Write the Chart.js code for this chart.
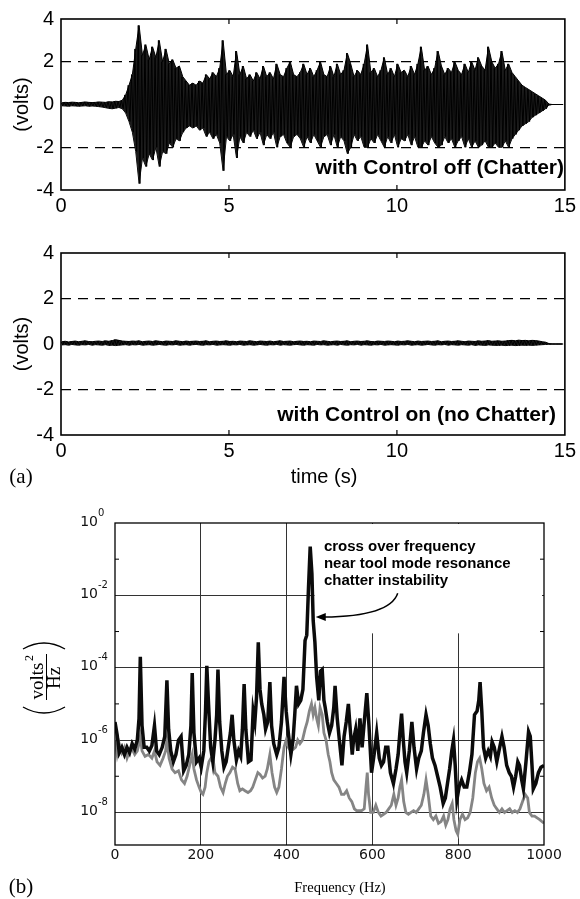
<!DOCTYPE html>
<html>
<head>
<meta charset="utf-8">
<script src="https://cdn.jsdelivr.net/npm/chart.js@4.4.1/dist/chart.umd.min.js"></script>
<style>
  body { margin: 0; background: #fff; width: 580px; height: 899px; position: relative; overflow: hidden; }
  canvas { position: absolute; left: 0; }
</style>
</head>
<body>
<canvas id="chartOff" width="580" height="225" style="top:0px"></canvas>
<canvas id="chartOn" width="580" height="275" style="top:225px"></canvas>
<canvas id="chartPsd" width="580" height="399" style="top:500px"></canvas>
<script>
// ---- time traces: envelope per 0.1 s bin (max / min volts) ----
const SAMPLE_STEP = 0.1;
const timeTicks = [0, 5, 10, 15];
const voltTicks = [-4, -2, 0, 2, 4];

const chatterHi = [
  0.08,0.10,0.09,0.11,0.10,0.08,0.10,0.12,0.10,0.09,
  0.10,0.12,0.11,0.10,0.13,0.12,0.15,0.14,0.20,0.45,
  0.90,1.40,2.60,3.70,2.30,2.80,2.10,2.70,2.20,3.00,
  2.00,2.60,1.90,2.10,1.70,1.80,1.30,1.10,0.90,1.00,
  0.90,1.10,1.00,1.40,1.20,1.50,1.30,1.70,3.00,1.40,
  1.60,1.30,2.50,1.40,1.80,1.20,1.40,1.10,1.50,1.20,
  1.80,1.30,1.50,1.20,1.90,1.40,1.30,1.70,2.00,1.40,
  1.30,1.50,1.90,1.40,1.70,1.30,1.60,2.00,1.40,1.30,
  1.80,1.30,1.90,1.40,1.60,2.40,1.90,1.30,1.60,1.40,
  1.90,2.80,1.50,1.70,1.30,1.60,2.20,1.40,1.70,1.30,
  1.90,1.50,1.60,1.30,1.80,1.40,1.90,2.70,1.60,1.80,
  1.40,1.70,2.50,1.80,1.40,1.70,1.50,2.00,1.60,1.40,
  1.90,1.50,2.00,1.60,2.20,1.80,1.60,2.70,2.00,1.70,
  1.90,2.50,1.60,1.90,1.50,1.30,1.10,0.90,0.80,0.70,
  0.60,0.50,0.40,0.30,0.20,0.02,0,0,0,0
];
const chatterLo = [
  -0.06,-0.07,-0.08,-0.06,-0.07,-0.08,-0.07,-0.06,-0.08,-0.07,
  -0.08,-0.10,-0.12,-0.15,-0.18,-0.20,-0.17,-0.14,-0.20,-0.40,
  -0.80,-1.30,-2.20,-3.70,-2.50,-2.90,-2.30,-2.60,-2.00,-2.90,
  -2.20,-2.30,-1.80,-2.00,-1.60,-1.70,-1.30,-1.10,-1.00,-1.10,
  -1.00,-1.20,-1.10,-1.50,-1.30,-1.60,-1.40,-1.80,-3.10,-1.50,
  -1.70,-1.40,-2.50,-1.50,-1.80,-1.30,-1.50,-1.20,-1.60,-1.30,
  -1.90,-1.40,-1.60,-1.30,-2.00,-1.50,-1.40,-1.80,-2.00,-1.50,
  -1.40,-1.60,-2.00,-1.50,-1.80,-1.40,-1.70,-2.00,-1.50,-1.40,
  -1.90,-1.40,-2.00,-1.50,-1.70,-2.30,-2.00,-1.40,-1.70,-1.50,
  -2.00,-2.00,-1.60,-1.80,-1.40,-1.70,-2.00,-1.50,-1.80,-1.40,
  -2.00,-1.60,-1.70,-1.40,-1.90,-1.50,-2.00,-2.00,-1.70,-1.90,
  -1.50,-1.80,-2.00,-1.90,-1.50,-1.80,-1.60,-2.00,-1.70,-1.50,
  -2.00,-1.60,-2.00,-1.70,-2.00,-1.90,-1.70,-2.00,-2.00,-1.80,
  -2.00,-2.00,-1.70,-2.00,-1.60,-1.40,-1.20,-1.00,-0.90,-0.80,
  -0.60,-0.50,-0.40,-0.30,-0.20,-0.02,0,0,0,0
];
const quietHi = [
  0.10,0.12,0.09,0.11,0.13,0.10,0.12,0.14,0.11,0.10,
  0.12,0.13,0.11,0.14,0.12,0.15,0.19,0.16,0.13,0.12,
  0.11,0.13,0.12,0.14,0.10,0.12,0.13,0.11,0.14,0.12,
  0.10,0.13,0.12,0.11,0.14,0.12,0.10,0.13,0.11,0.12,
  0.13,0.11,0.12,0.14,0.10,0.12,0.13,0.11,0.12,0.14,
  0.11,0.12,0.10,0.13,0.12,0.11,0.14,0.12,0.10,0.13,
  0.12,0.11,0.13,0.10,0.12,0.14,0.11,0.12,0.13,0.10,
  0.12,0.13,0.11,0.12,0.10,0.13,0.12,0.11,0.14,0.12,
  0.10,0.12,0.13,0.11,0.12,0.14,0.10,0.12,0.13,0.11,
  0.12,0.14,0.11,0.10,0.13,0.12,0.11,0.13,0.12,0.10,
  0.13,0.11,0.12,0.14,0.12,0.10,0.13,0.11,0.12,0.13,
  0.11,0.12,0.14,0.10,0.12,0.13,0.11,0.12,0.14,0.12,
  0.10,0.13,0.12,0.11,0.14,0.12,0.13,0.15,0.12,0.13,
  0.14,0.12,0.13,0.15,0.16,0.14,0.17,0.15,0.16,0.14,
  0.16,0.15,0.13,0.10,0.08,0.02,0,0,0,0
];
const quietLo = [
  -0.04,-0.03,-0.05,-0.02,-0.04,-0.05,-0.03,-0.04,-0.02,-0.05,
  -0.03,-0.04,-0.05,-0.03,-0.06,-0.05,-0.07,-0.05,-0.04,-0.03,
  -0.05,-0.03,-0.04,-0.02,-0.05,-0.04,-0.03,-0.05,-0.04,-0.02,
  -0.04,-0.05,-0.03,-0.04,-0.02,-0.05,-0.04,-0.03,-0.05,-0.03,
  -0.02,-0.04,-0.05,-0.03,-0.04,-0.02,-0.05,-0.04,-0.03,-0.04,
  -0.05,-0.03,-0.04,-0.02,-0.05,-0.04,-0.03,-0.05,-0.04,-0.02,
  -0.04,-0.05,-0.03,-0.04,-0.02,-0.05,-0.03,-0.04,-0.05,-0.03,
  -0.02,-0.04,-0.05,-0.03,-0.04,-0.05,-0.02,-0.04,-0.03,-0.05,
  -0.04,-0.03,-0.05,-0.02,-0.04,-0.05,-0.03,-0.04,-0.02,-0.05,
  -0.03,-0.04,-0.05,-0.03,-0.04,-0.02,-0.05,-0.04,-0.03,-0.04,
  -0.05,-0.03,-0.04,-0.02,-0.05,-0.04,-0.03,-0.05,-0.04,-0.02,
  -0.04,-0.05,-0.03,-0.04,-0.02,-0.05,-0.03,-0.04,-0.05,-0.03,
  -0.04,-0.05,-0.03,-0.06,-0.04,-0.05,-0.06,-0.04,-0.05,-0.06,
  -0.06,-0.05,-0.07,-0.06,-0.05,-0.07,-0.06,-0.05,-0.06,-0.05,
  -0.06,-0.05,-0.04,-0.03,-0.02,-0.01,0,0,0,0
];

// ---- spectrum: frequency (Hz) and log10 of PSD (volts^2/Hz) ----
const freqTicks = [0, 200, 400, 600, 800, 1000];
const psdDecades = [0, -2, -4, -6, -8];
const psdMinorDecades = [-1, -3, -5, -7];

const offFreq = [0,5,10,16,22,28,34,40,46,52,56,59,63,68,74,80,86,92,97,103,110,116,121,125,130,136,142,148,154,160,166,172,177,180,184,190,196,201,207,211,214,218,223,228,233,237,240,244,249,254,259,264,269,273,277,283,288,293,297,301,305,311,317,322,326,330,334,338,342,347,351,356,361,365,370,377,382,388,394,399,404,410,415,419,423,428,433,438,443,447,451,455,459,462,466,470,475,479,483,487,490,495,500,505,510,513,518,523,529,534,539,544,549,553,556,561,566,571,576,581,587,592,598,604,610,616,621,626,631,636,642,649,655,660,664,668,672,676,680,686,692,697,703,708,714,719,725,730,735,740,746,752,758,765,770,775,780,785,789,793,797,802,808,814,820,826,832,838,844,848,851,855,859,864,870,875,879,884,890,895,902,907,913,919,924,929,934,939,943,948,952,958,964,968,972,975,981,987,993,1000];
const offLog = [-5.5,-5.85,-6.35,-6.2,-6.4,-6.2,-6.35,-6.1,-6.25,-6.0,-5.4,-3.7,-5.6,-6.2,-6.2,-6.3,-6.15,-5.6,-6.3,-6.4,-6.2,-5.9,-4.35,-5.7,-6.3,-6.6,-6.4,-6.0,-5.9,-6.85,-6.7,-6.4,-5.6,-4.15,-5.8,-6.6,-6.5,-6.75,-6.3,-5.2,-3.95,-5.0,-6.2,-6.6,-6.0,-5.3,-4.05,-5.5,-6.3,-6.75,-6.6,-6.2,-5.8,-5.3,-6.0,-6.55,-6.3,-6.45,-5.7,-4.45,-5.7,-6.6,-6.55,-5.2,-5.5,-4.8,-3.3,-4.6,-5.0,-5.3,-5.7,-5.5,-4.4,-5.6,-6.1,-6.4,-6.2,-5.5,-4.25,-5.2,-5.8,-6.4,-6.0,-5.3,-4.5,-5.0,-4.9,-4.6,-3.25,-3.1,-1.8,-0.65,-1.4,-2.7,-3.3,-4.25,-4.9,-4.1,-4.05,-4.9,-5.1,-5.5,-5.8,-5.6,-5.1,-4.5,-5.4,-6.0,-6.7,-5.9,-5.5,-5.0,-5.8,-6.4,-6.0,-5.7,-6.3,-5.4,-6.2,-5.5,-4.7,-5.6,-6.9,-6.4,-5.8,-6.5,-6.7,-6.6,-6.2,-6.2,-6.9,-7.2,-6.8,-6.4,-5.8,-5.27,-6.0,-6.6,-6.9,-6.3,-5.5,-6.2,-6.8,-6.5,-6.3,-5.8,-5.3,-5.6,-6.1,-6.5,-6.7,-7.0,-7.3,-7.75,-7.6,-7.2,-6.8,-6.3,-6.0,-6.7,-7.65,-7.3,-7.1,-7.3,-7.3,-6.9,-6.4,-5.3,-5.2,-4.9,-4.4,-5.2,-6.2,-6.5,-6.3,-6.45,-6.05,-6.2,-6.6,-6.3,-5.9,-6.2,-6.7,-6.9,-7.0,-7.3,-7.0,-6.6,-6.7,-7.1,-7.35,-6.6,-5.77,-5.9,-6.7,-7.35,-7.2,-6.9,-6.75,-6.7];

const onFreq = [0,5,10,16,22,28,34,40,46,52,56,59,63,70,78,86,92,98,105,112,118,121,126,133,140,148,155,162,168,174,180,184,190,196,201,205,210,214,219,224,228,233,240,246,252,257,262,268,274,280,286,291,297,303,310,316,321,327,333,338,344,350,355,361,366,372,377,382,388,394,399,404,410,416,421,426,431,437,443,448,453,458,462,466,470,474,478,483,487,492,497,501,505,510,516,522,528,534,540,546,552,558,563,569,575,581,585,588,591,596,602,608,614,620,626,632,638,644,650,655,660,664,668,673,678,684,690,696,702,708,714,720,725,730,736,742,748,754,760,766,771,776,781,786,790,795,799,804,810,816,822,828,834,840,845,850,855,860,866,872,878,884,890,896,902,908,914,920,926,932,938,944,950,956,962,966,972,978,984,990,995,1000];
const onLog = [-6.0,-6.4,-6.1,-6.35,-6.2,-6.5,-6.3,-6.25,-6.4,-6.3,-6.1,-5.9,-6.3,-6.45,-6.4,-6.5,-6.3,-6.6,-6.7,-6.5,-6.3,-6.0,-6.5,-6.8,-6.9,-6.85,-7.1,-7.2,-7.0,-6.7,-6.4,-6.8,-7.1,-7.3,-7.45,-7.5,-7.3,-6.9,-6.6,-6.5,-6.45,-6.9,-7.0,-7.3,-7.45,-7.2,-7.0,-6.9,-6.75,-6.8,-7.2,-7.4,-7.35,-7.4,-7.45,-7.4,-7.3,-7.1,-6.9,-6.95,-7.05,-7.0,-6.8,-6.4,-6.9,-7.3,-7.45,-7.3,-6.8,-6.2,-6.0,-6.2,-6.3,-6.25,-6.2,-6.0,-6.1,-6.0,-5.7,-5.5,-5.2,-5.0,-5.3,-5.1,-5.4,-5.6,-5.1,-5.3,-5.8,-6.0,-6.4,-6.6,-6.9,-7.1,-7.2,-7.3,-7.5,-7.5,-7.4,-7.6,-7.7,-7.9,-7.95,-7.95,-7.95,-7.9,-7.3,-6.9,-7.5,-8.0,-8.0,-7.8,-8.0,-8.1,-8.05,-8.0,-7.9,-7.8,-7.5,-7.8,-7.6,-7.3,-7.1,-7.7,-8.0,-8.05,-8.0,-7.95,-8.0,-7.9,-7.8,-7.5,-7.1,-7.5,-8.1,-8.2,-8.1,-8.3,-8.25,-8.1,-8.35,-8.2,-7.9,-7.75,-8.2,-8.5,-8.6,-8.2,-8.05,-8.2,-8.15,-8.0,-7.6,-6.9,-6.6,-6.5,-6.8,-7.2,-7.4,-7.3,-7.6,-7.8,-7.9,-8.0,-7.9,-8.0,-7.95,-7.9,-8.0,-7.95,-8.0,-7.9,-7.7,-7.5,-7.6,-8.0,-8.1,-8.1,-8.15,-8.2,-8.25,-8.3];

Chart.defaults.font.family = '"Liberation Sans", Arial, sans-serif';
Chart.defaults.color = '#000';
Chart.defaults.animation = false;

const CLEAR = 'rgba(0,0,0,0)';

// each bin becomes an up/down stroke, which reads as the dense oscillation
function envelopePoints(hi, lo) {
  const pts = [];
  hi.forEach((h, i) => {
    pts.push({ x: i * SAMPLE_STEP, y: h });
    pts.push({ x: i * SAMPLE_STEP + SAMPLE_STEP / 2, y: lo[i] });
  });
  return pts;
}

function binPoints(values) {
  return values.map((v, i) => ({ x: i * SAMPLE_STEP + SAMPLE_STEP / 4, y: v }));
}

function spectrumPoints(freqs, logs) {
  return freqs.map((f, i) => ({ x: f, y: Math.pow(10, logs[i]) }));
}

function timeChart(id, hi, lo, opts) {
  const frame = {
    id: 'frame-' + id,
    afterDraw(chart) {
      const { ctx, chartArea: a, scales: { x, y } } = chart;
      ctx.save();
      ctx.strokeStyle = '#000';
      ctx.lineWidth = 1.6;
      ctx.strokeRect(a.left, a.top, a.right - a.left, a.bottom - a.top);
      ctx.lineWidth = 1.2;
      timeTicks.slice(1, -1).forEach(v => {
        const px = x.getPixelForValue(v);
        ctx.beginPath();
        ctx.moveTo(px, a.top); ctx.lineTo(px, a.top + 5);
        ctx.moveTo(px, a.bottom); ctx.lineTo(px, a.bottom - 5);
        ctx.stroke();
      });
      ctx.fillStyle = '#000';
      ctx.font = 'bold 21px "Liberation Sans", Arial, sans-serif';
      ctx.textAlign = 'right';
      ctx.textBaseline = 'middle';
      ctx.fillText(opts.note, opts.noteX, opts.noteY);

      if (opts.xTitle) {
        ctx.font = '20px "Liberation Sans", Arial, sans-serif';
        ctx.textAlign = 'center';
        ctx.fillText(opts.xTitle, 324, opts.xTitleY);
        ctx.font = '21px "Liberation Serif", "Times New Roman", serif';
        ctx.fillText('(a)', 21, opts.xTitleY);
      }
      ctx.font = '20px "Liberation Sans", Arial, sans-serif';
      ctx.translate(22, y.getPixelForValue(0));
      ctx.rotate(-Math.PI / 2);
      ctx.textAlign = 'center';
      ctx.fillText('(volts)', 0, 0);
      ctx.restore();
    }
  };

  return new Chart(document.getElementById(id), {
    type: 'line',
    data: {
      datasets: [
        {
          data: envelopePoints(hi, lo),
          borderColor: '#000',
          borderWidth: 1,
          pointRadius: 0,
          fill: false
        },
        {
          data: binPoints(hi),
          borderColor: '#000',
          borderWidth: 1,
          backgroundColor: '#1c1c1c',
          pointRadius: 0,
          fill: '+1'
        },
        {
          data: binPoints(lo),
          borderColor: '#000',
          borderWidth: 1,
          pointRadius: 0,
          fill: false
        }
      ]
    },
    options: {
      responsive: false,
      layout: { padding: { top: opts.top, right: 11, left: 0, bottom: 0 } },
      plugins: { legend: { display: false }, tooltip: { enabled: false } },
      scales: {
        x: {
          type: 'linear', min: 0, max: 15,
          afterBuildTicks: s => { s.ticks = timeTicks.map(v => ({ value: v })); },
          ticks: { font: { size: 20 }, padding: 4, maxRotation: 0, color: '#000' },
          grid: { display: false, drawTicks: false },
          border: { display: false },
          afterFit: s => { s.height = opts.xHeight; }
        },
        y: {
          type: 'linear', min: -4, max: 4,
          afterBuildTicks: s => { s.ticks = voltTicks.map(v => ({ value: v })); },
          ticks: { font: { size: 20 }, padding: 7, color: '#000' },
          grid: {
            drawTicks: false,
            lineWidth: 1.3,
            color: c => (Math.abs(c.tick.value) === 2 ? '#000' : CLEAR)
          },
          border: { display: false, dash: [10, 7] },
          afterFit: s => { s.width = 61; }
        }
      }
    },
    plugins: [frame]
  });
}

timeChart('chartOff', chatterHi, chatterLo, {
  top: 14, xHeight: 35,
  note: 'with Control off (Chatter)', noteX: 564, noteY: 168
});
timeChart('chartOn', quietHi, quietLo, {
  top: 28, xHeight: 65,
  note: 'with Control on (no Chatter)', noteX: 556, noteY: 190,
  xTitle: 'time (s)', xTitleY: 252
});

// ---- spectrum chart ----
const psdFrame = {
  id: 'psdFrame',
  beforeDatasetsDraw(chart) {
    // the annotation sits on a white patch that hides the grid behind it
    const { ctx, chartArea: a, scales: { x, y } } = chart;
    const left = x.getPixelForValue(465);
    const bottom = y.getPixelForValue(Math.pow(10, -3.05));
    ctx.save();
    ctx.fillStyle = '#fff';
    ctx.fillRect(left, a.top + 1, a.right - 2 - left, bottom - a.top - 1);
    ctx.restore();
  },
  afterDraw(chart) {
    const { ctx, chartArea: a, scales: { x, y } } = chart;
    ctx.save();
    ctx.strokeStyle = '#000';
    ctx.lineWidth = 1.3;
    ctx.strokeRect(a.left, a.top, a.right - a.left, a.bottom - a.top);
    ctx.lineWidth = 1;
    psdMinorDecades.forEach(e => {
      const py = y.getPixelForValue(Math.pow(10, e));
      ctx.beginPath();
      ctx.moveTo(a.left, py); ctx.lineTo(a.left + 4, py);
      ctx.moveTo(a.right, py); ctx.lineTo(a.right - 4, py);
      ctx.stroke();
    });

    // decade labels 10^n
    ctx.fillStyle = '#111';
    psdDecades.forEach(e => {
      const py = y.getPixelForValue(Math.pow(10, e));
      ctx.font = '14px "DejaVu Sans", sans-serif';
      ctx.textAlign = 'right';
      ctx.textBaseline = 'middle';
      ctx.fillText('10', a.left - 17, py - 1);
      ctx.font = '10px "DejaVu Sans", sans-serif';
      ctx.textAlign = 'left';
      ctx.fillText(String(e), a.left - 17, py - 10);
    });

    // x title and panel letter
    ctx.fillStyle = '#000';
    ctx.textAlign = 'center';
    ctx.textBaseline = 'middle';
    ctx.font = '14.5px "Liberation Serif", "Times New Roman", serif';
    ctx.fillText('Frequency (Hz)', 340, 388);
    ctx.font = '21px "Liberation Serif", "Times New Roman", serif';
    ctx.fillText('(b)', 21, 387);

    // annotation
    ctx.font = 'bold 15px "Liberation Sans", Arial, sans-serif';
    ctx.textAlign = 'left';
    const tx = x.getPixelForValue(487);
    ['cross over frequency', 'near tool mode resonance', 'chatter instability']
      .forEach((line, i) => ctx.fillText(line, tx, a.top + 24 + i * 17));

    const sx = x.getPixelForValue(659), sy = y.getPixelForValue(Math.pow(10, -1.94));
    const cx = x.getPixelForValue(641), cy = y.getPixelForValue(Math.pow(10, -2.58));
    const ex = x.getPixelForValue(468), ey = y.getPixelForValue(Math.pow(10, -2.6));
    ctx.lineWidth = 1.5;
    ctx.beginPath();
    ctx.moveTo(sx, sy);
    ctx.quadraticCurveTo(cx, cy, ex + 8, ey);
    ctx.stroke();
    ctx.beginPath();
    ctx.moveTo(ex, ey);
    ctx.lineTo(ex + 10, ey - 4);
    ctx.lineTo(ex + 10, ey + 4);
    ctx.closePath();
    ctx.fill();

    // y title: (volts^2 / Hz)
    ctx.translate(41, 178);
    ctx.rotate(-Math.PI / 2);
    ctx.textAlign = 'center';
    ctx.textBaseline = 'alphabetic';
    ctx.font = '19px "Liberation Serif", "Times New Roman", serif';
    ctx.fillText('volts', -3, 2);
    ctx.fillText('Hz', 0, 19);
    ctx.font = '12px "Liberation Serif", "Times New Roman", serif';
    ctx.fillText('2', 20, -8);
    ctx.lineWidth = 1;
    ctx.beginPath();
    ctx.moveTo(-22, 5.5); ctx.lineTo(24, 5.5);
    ctx.stroke();
    ctx.lineWidth = 1.4;
    ctx.beginPath();
    ctx.moveTo(-29, -18); ctx.quadraticCurveTo(-41, 3, -29, 24);
    ctx.moveTo(29, -18); ctx.quadraticCurveTo(41, 3, 29, 24);
    ctx.stroke();
    ctx.restore();
  }
};

new Chart(document.getElementById('chartPsd'), {
  type: 'line',
  data: {
    datasets: [
      {
        label: 'control off',
        data: spectrumPoints(offFreq, offLog),
        borderColor: '#0b0b0b',
        borderWidth: 3.5,
        pointRadius: 0,
        fill: false
      },
      {
        label: 'control on',
        data: spectrumPoints(onFreq, onLog),
        borderColor: '#858585',
        borderWidth: 2.8,
        pointRadius: 0,
        fill: false
      }
    ]
  },
  options: {
    responsive: false,
    layout: { padding: { top: 23, right: 36, left: 0, bottom: 0 } },
    plugins: { legend: { display: false }, tooltip: { enabled: false } },
    scales: {
      x: {
        type: 'linear', min: 0, max: 1000,
        afterBuildTicks: s => { s.ticks = freqTicks.map(v => ({ value: v })); },
        ticks: {
          font: { family: '"DejaVu Sans", sans-serif', size: 14 },
          padding: 2, maxRotation: 0, color: '#111',
          callback: v => String(v)
        },
        grid: {
          drawTicks: false,
          lineWidth: 1,
          color: c => (c.tick.value > 0 && c.tick.value < 1000 ? '#333' : CLEAR)
        },
        border: { display: false },
        afterFit: s => { s.height = 54; }
      },
      y: {
        type: 'logarithmic', min: Math.pow(10, -8.9), max: 1,
        afterBuildTicks: s => { s.ticks = psdDecades.map(e => ({ value: Math.pow(10, e) })); },
        ticks: { display: false },
        grid: {
          drawTicks: false,
          lineWidth: 1,
          color: c => (c.tick.value < 0.5 ? '#333' : CLEAR)
        },
        border: { display: false },
        afterFit: s => { s.width = 115; }
      }
    }
  },
  plugins: [psdFrame]
});
</script>
</body>
</html>
